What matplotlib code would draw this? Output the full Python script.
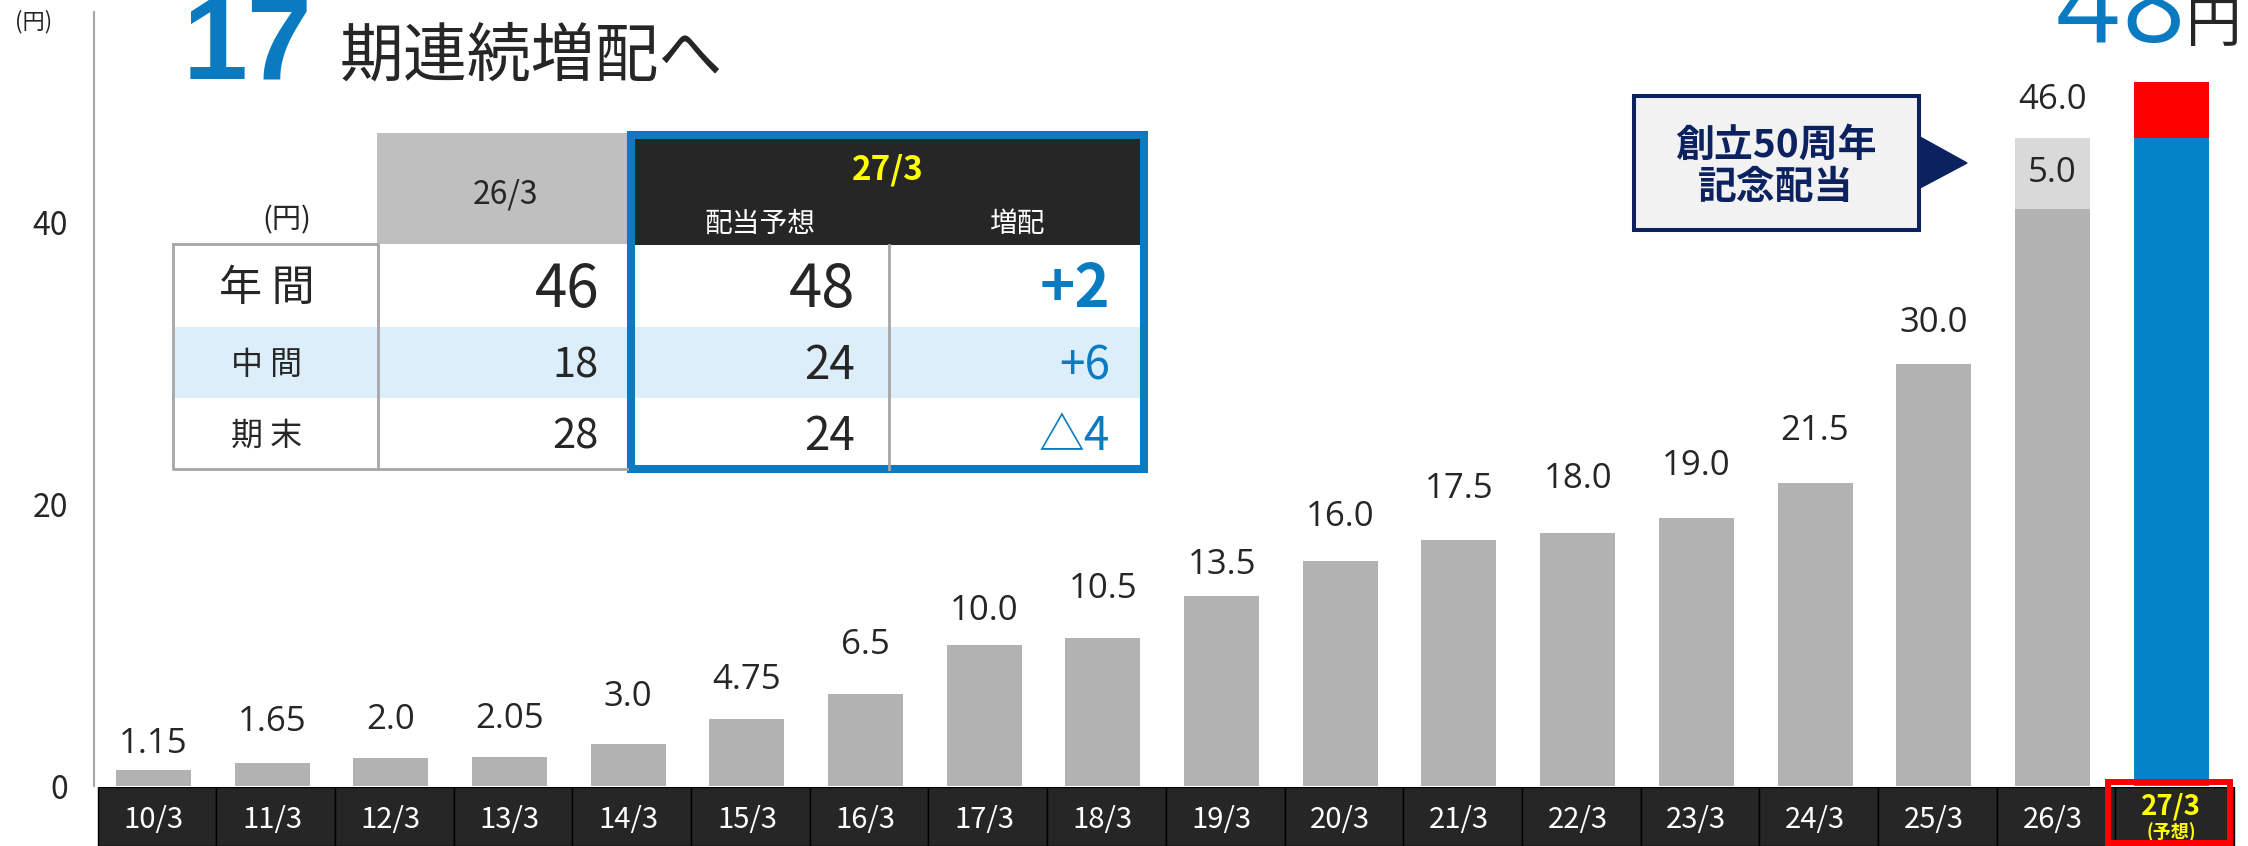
import matplotlib.pyplot as plt
from matplotlib.patches import Rectangle, Polygon

plt.rcParams['font.family'] = ['Noto Sans CJK JP', 'DejaVu Sans']

# 配当の推移 (円)
years = ['10/3', '11/3', '12/3', '13/3', '14/3', '15/3', '16/3', '17/3', '18/3',
         '19/3', '20/3', '21/3', '22/3', '23/3', '24/3', '25/3', '26/3']
ordinary = [1.15, 1.65, 2.0, 2.05, 3.0, 4.75, 6.5, 10.0, 10.5,
            13.5, 16.0, 17.5, 18.0, 19.0, 21.5, 30.0, 41.0]
kinen = [0] * 16 + [5.0]          # 創立50周年記念配当
labels = ['1.15', '1.65', '2.0', '2.05', '3.0', '4.75', '6.5', '10.0', '10.5',
          '13.5', '16.0', '17.5', '18.0', '19.0', '21.5', '30.0', '46.0']
fc_year = '27/3'
fc_base = 46.0
fc_top = 4.0

# 表
row_names = ['年 間', '中 間', '期 末']
prev = [46, 18, 28]
forecast = [48, 24, 24]
change = ['+2', '+6', '△4']

W, H = 2248, 846
DARK = '#262626'
BLUE = '#0A7BC0'
NAVY = '#0B2160'
LAT = ['Open Sans', 'DejaVu Sans']

fig = plt.figure(figsize=(W / 100, H / 100), dpi=100)

# --- 棒グラフ ---
ax = fig.add_axes([94 / W, 60 / H, (W - 94) / W, 786 / H])
x = list(range(len(years)))
ax.bar(x, ordinary, width=0.632, color='#B2B2B2')
ax.bar(x, kinen, bottom=ordinary, width=0.632, color='#D9D9D9')
ax.bar(len(years), fc_base, width=0.632, color='#0484C6')
ax.bar(len(years), fc_top, bottom=fc_base, width=0.632, color='#FF0000')

# ラベルの高さは元資料に合わせて個別に調整 (pt)
pad = [12, 23, 21, 21, 27, 22, 29, 18, 29, 16, 25, 30, 32, 31, 31, 23, 21]
for i, lab in enumerate(labels):
    ax.annotate(lab, (i, ordinary[i] + kinen[i]), xytext=(0, pad[i]), textcoords='offset points',
                ha='center', va='baseline', fontsize=25, color=DARK, family=LAT)
ax.text(16, ordinary[16] + kinen[16] / 2, '5.0', ha='center', va='center',
        fontsize=25, color=DARK, family=LAT)

ax.set_xlim(-0.501, 17.648)
ax.set_ylim(0, 55.82)
ax.set_xticks([])
ax.set_yticks([0, 20, 40])
ax.tick_params(axis='y', length=0, pad=18.7, labelsize=23, labelcolor=DARK)
for s in ['top', 'right', 'bottom']:
    ax.spines[s].set_visible(False)
ax.spines['left'].set_color('#A6A6A6')
ax.spines['left'].set_linewidth(1.5)
ax.spines['left'].set_bounds(0, 55)
fig.text(34 / W, 1 - 22 / H, '(円)', ha='center', va='center', fontsize=16, color=DARK)

# --- 年度の帯 ---
band = fig.add_axes([94 / W, 0, (W - 94) / W, 59 / H])
band.set_xlim(ax.get_xlim())
band.set_ylim(0, 1)
band.axis('off')
for i, y in enumerate(years):
    band.add_patch(Rectangle((i - 0.47, 0), 1, 1, facecolor=DARK, edgecolor='black', lw=1))
    band.text(i, 0.31, y, ha='center', va='baseline', fontsize=21, color='white')
n = len(years)
band.add_patch(Rectangle((n - 0.47, 0), 1, 1, facecolor=DARK, edgecolor='black', lw=1))
band.add_patch(Rectangle((16.465, 0.05), 1.035, 1.035, fill=False, edgecolor='#FF0000',
                         lw=4.3, clip_on=False, zorder=5))
band.text(n, 0.54, fc_year, ha='center', va='baseline', fontsize=20, color='#FFFF00',
          fontweight='bold')
band.text(n, 0.14, '(予想)', ha='center', va='baseline', fontsize=13, color='#FFFF00',
          fontweight='bold')

# --- 上に重ねる図形 (ピクセル座標) ---
ov = fig.add_axes([0, 0, 1, 1])
ov.set_xlim(0, W)
ov.set_ylim(H, 0)
ov.axis('off')


def put(px, py, s, fs, ha='center', **kw):
    kw.setdefault('color', DARK)
    ov.text(px, py + 0.51 * fs, s, ha=ha, va='baseline', fontsize=fs, **kw)


# タイトル
ov.text(183, 80, '17', ha='left', va='baseline', fontsize=84, fontweight='bold',
        color=BLUE, family=['Liberation Sans', 'DejaVu Sans'])
put(340, 52, '期連続増配へ', 46, ha='left')
ov.text(2087, 42, '4', ha='center', va='baseline', fontsize=80, color=BLUE, family=LAT)
ov.text(2153, 42, '8', ha='center', va='baseline', fontsize=80, color=BLUE, family=LAT)
ov.text(2186, 42, '円', ha='left', va='baseline', fontsize=40, color=DARK)

# 記念配当の吹き出し
ov.add_patch(Rectangle((1634, 96), 285, 134, facecolor='#F2F2F2', edgecolor=NAVY, lw=2.9))
ov.add_patch(Polygon([(1920, 137), (1967, 163), (1920, 188)], closed=True, color=NAVY))
put(1776, 142, '創立50周年', 28, fontweight='bold', color=NAVY)
put(1776, 185, '記念配当', 28, fontweight='bold', color=NAVY)

# 表
row_y = [(244, 327), (327, 398), (398, 469)]
ov.add_patch(Rectangle((173, 327), 969, 71, facecolor='#DDEEFB', edgecolor='none'))
ov.add_patch(Rectangle((377, 133), 250, 111, facecolor='#BFBFBF', edgecolor='none'))
ov.plot([173, 378, 378], [244, 244, 469], color='#A6A6A6', lw=2)
ov.plot([173, 173, 627], [244, 469, 469], color='#A6A6A6', lw=2)
ov.add_patch(Rectangle((635, 139), 506, 106, facecolor=DARK, edgecolor='none'))
ov.plot([889, 889], [245, 469], color='#A6A6A6', lw=2)
ov.add_patch(Rectangle((631, 135), 513, 334, fill=False, edgecolor=BLUE, lw=5.8))

put(287, 218, '(円)', 21)
put(505, 192, '26/3', 23)
put(888, 167, '27/3', 24, color='#FFFF00', fontweight='bold')
put(760, 222, '配当予想', 20, color='white')
put(1017, 222, '増配', 20, color='white')

row_fs = [31, 23, 23]
val_fs = [42, 30, 30]
fc_fs = [43, 33, 33]
chg_w = ['bold', 'normal', 'normal']
for k in range(3):
    cy = (row_y[k][0] + row_y[k][1]) / 2
    put(267, cy, row_names[k], row_fs[k])
    put(599, cy, str(prev[k]), val_fs[k], ha='right')
    put(855, cy, str(forecast[k]), fc_fs[k], ha='right')
    put(1110, cy, change[k], fc_fs[k], ha='right', color=BLUE, fontweight=chg_w[k])

fig.savefig('out.png', dpi=100)
